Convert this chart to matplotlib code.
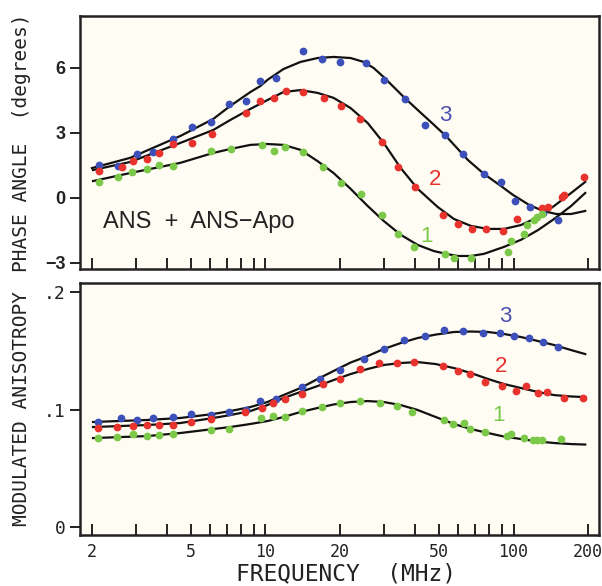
import matplotlib
matplotlib.use("Agg")
import matplotlib.pyplot as plt
from matplotlib.ticker import FixedLocator, FixedFormatter, NullLocator

# ---------------- data: phase angle (degrees) ----------------
phase3_f = [2.13, 2.55, 3.04, 3.53, 4.25, 5.07, 6.05, 7.15, 8.38, 9.55, 11.08, 14.11,
            16.84, 19.91, 25.36, 30.0, 36.4, 43.9, 52.9, 62.5, 76.0, 89.0, 101.4,
            116.6, 131.5, 151.3]
phase3_v = [1.52, 1.48, 2.03, 2.12, 2.72, 3.28, 3.51, 4.34, 4.48, 5.40, 5.54, 6.78,
            6.41, 6.28, 6.23, 5.45, 4.57, 3.37, 2.91, 2.03, 1.11, 0.74, -0.14,
            -0.42, -0.69, -1.02]

phase2_f = [2.13, 2.64, 2.93, 3.34, 3.73, 4.25, 5.07, 6.11, 8.38, 9.55, 10.87, 12.16,
            14.11, 17.15, 20.09, 24.0, 29.4, 34.2, 40.0, 51.9, 59.7, 68.0, 77.4,
            90.7, 103.3, 130.3, 137.8, 157.0, 160.0, 192.7]
phase2_v = [1.25, 1.43, 1.71, 1.80, 2.08, 2.49, 2.54, 2.95, 3.92, 4.48, 4.62, 4.94,
            4.89, 4.62, 4.25, 3.65, 2.58, 1.43, 0.51, -0.78, -1.20, -1.43, -1.43,
            -1.52, -0.97, -0.46, -0.42, 0.05, 0.14, 0.97]

phase1_f = [2.13, 2.55, 2.90, 3.34, 3.73, 4.25, 6.05, 7.29, 9.72, 10.87, 12.05, 14.11,
            17.0, 20.09, 24.2, 29.4, 34.2, 39.6, 52.9, 57.5, 67.3, 95.0, 97.7,
            110.3, 113.4, 121.0, 124.5, 130.3]
phase1_v = [0.74, 0.97, 1.20, 1.34, 1.52, 1.48, 2.17, 2.26, 2.45, 2.17, 2.35, 2.12,
            1.43, 0.69, 0.18, -0.78, -1.66, -2.26, -2.58, -2.77, -2.77, -2.49, -1.98,
            -1.66, -1.25, -1.02, -0.88, -0.74]

# fitted curves
fit3_f = [2.0, 2.85, 4.54, 6.17, 7.22, 8.70, 9.55, 10.19, 11.82, 13.85, 16.23, 18.83,
          22.05, 24.89, 27.3, 29.97, 32.9, 36.1, 41.1, 46.4, 53.4, 59.1, 65.5, 76.0,
          89.0, 99.5, 115.5, 131.5, 148.5, 170.7, 194.5]
fit3_v = [1.38, 1.85, 2.86, 3.65, 4.25, 4.89, 5.17, 5.45, 5.95, 6.28, 6.46, 6.51,
          6.46, 6.28, 6.00, 5.58, 5.12, 4.66, 4.06, 3.51, 2.86, 2.31, 1.75, 1.11,
          0.55, 0.14, -0.32, -0.60, -0.74, -0.74, -0.60]

fit2_f = [2.02, 2.85, 4.54, 6.17, 7.22, 8.70, 10.19, 11.82, 13.85, 16.23, 18.83,
          22.05, 25.83, 29.97, 35.1, 41.1, 49.5, 57.5, 67.3, 78.9, 91.5, 107.2,
          125.6, 145.7, 170.7, 194.5]
fit2_v = [1.29, 1.66, 2.54, 3.14, 3.60, 4.11, 4.52, 4.89, 4.98, 4.85, 4.62,
          4.15, 3.46, 2.54, 1.38, 0.42, -0.42, -0.97, -1.29, -1.43, -1.43, -1.25,
          -0.88, -0.37, 0.23, 0.74]

fit1_f = [2.02, 2.85, 4.54, 6.17, 7.22, 8.70, 10.19, 11.82, 13.85, 16.23, 18.83,
          22.05, 25.83, 29.97, 35.1, 41.1, 47.7, 53.4, 59.7, 67.3, 76.0, 91.5,
          107.2, 125.6, 145.7, 170.7, 194.5]
fit1_v = [0.78, 1.15, 1.62, 2.08, 2.26, 2.45, 2.49, 2.45, 2.22, 1.70, 1.15,
          0.42, -0.37, -1.06, -1.70, -2.17, -2.45, -2.58, -2.68, -2.68, -2.58, -2.26,
          -1.93, -1.48, -0.97, -0.37, 0.23]

# ---------------- data: modulated anisotropy ----------------
anis3_f = [2.12, 2.62, 3.04, 3.53, 4.25, 5.02, 6.05, 7.15, 8.38, 9.55, 11.08, 13.98,
           16.53, 19.91, 24.89, 29.97, 36.1, 43.9, 52.4, 62.5, 75.3, 88.2, 100.5,
           115.5, 131.5, 151.3]
anis3_v = [0.0894, 0.0928, 0.0911, 0.0928, 0.0936, 0.0962, 0.0953, 0.0979, 0.0996,
           0.1072, 0.1089, 0.1191, 0.1260, 0.1336, 0.1430, 0.1515, 0.1591, 0.1626,
           0.1677, 0.1668, 0.1651, 0.1651, 0.1626, 0.1609, 0.1574, 0.1532]

anis2_f = [2.12, 2.52, 2.93, 3.34, 3.73, 4.25, 5.02, 6.05, 8.30, 9.72, 10.77, 11.94,
           13.98, 17.0, 19.91, 23.98, 28.62, 33.83, 39.6, 51.9, 59.7, 66.7, 76.7,
           89.8, 102.3, 112.3, 125.6, 136.5, 160.0, 191.0]
anis2_v = [0.0843, 0.0851, 0.0860, 0.0868, 0.0868, 0.0868, 0.0894, 0.0919, 0.0979,
           0.1013, 0.1055, 0.1089, 0.1132, 0.1217, 0.1260, 0.1345, 0.1396, 0.1396,
           0.1404, 0.1370, 0.1328, 0.1302, 0.1234, 0.1200, 0.1157, 0.1200, 0.1140,
           0.1149, 0.1098, 0.1098]

anis1_f = [2.12, 2.52, 2.93, 3.34, 3.73, 4.25, 6.05, 7.15, 9.63, 10.77, 11.94, 13.98,
           16.84, 19.91, 23.98, 28.9, 33.83, 38.9, 52.4, 57.0, 63.1, 66.7, 76.7,
           94.1, 97.7, 110.3, 119.9, 124.5, 130.3, 155.6]
anis1_v = [0.0757, 0.0770, 0.0791, 0.0774, 0.0783, 0.0791, 0.0826, 0.0834, 0.0928,
           0.0945, 0.0936, 0.0987, 0.1021, 0.1055, 0.1072, 0.1055, 0.1030, 0.0979,
           0.0911, 0.0877, 0.0885, 0.0834, 0.0809, 0.0774, 0.0791, 0.0757, 0.0740,
           0.0740, 0.0740, 0.0749]

afit_f = [2.02, 3.34, 4.54, 6.17, 7.22, 8.70, 10.19, 11.82, 13.85, 16.23, 18.83,
          22.05, 25.83, 29.97, 35.1, 41.1, 48.6, 57.5, 67.3, 78.9, 91.5, 107.2,
          125.6, 145.7, 170.7, 194.5]
afit3_v = [0.0894, 0.0911, 0.0928, 0.0962, 0.0987, 0.1021, 0.1064, 0.1123, 0.1183,
           0.1260, 0.1328, 0.1400, 0.1455, 0.1515, 0.1566, 0.1609, 0.1638, 0.1660,
           0.1664, 0.1660, 0.1643, 0.1617, 0.1583, 0.1549, 0.1506, 0.1472]
afit2_v = [0.0851, 0.0868, 0.0885, 0.0928, 0.0953, 0.0987, 0.1038, 0.1098, 0.1149,
           0.1200, 0.1251, 0.1302, 0.1345, 0.1379, 0.1396, 0.1404, 0.1387, 0.1353,
           0.1311, 0.1260, 0.1217, 0.1183, 0.1149, 0.1123, 0.1111, 0.1106]
afit1_v = [0.0757, 0.0774, 0.0800, 0.0834, 0.0851, 0.0877, 0.0902, 0.0936, 0.0979,
           0.1013, 0.1043, 0.1064, 0.1072, 0.1064, 0.1038, 0.0996, 0.0936, 0.0877,
           0.0834, 0.0800, 0.0770, 0.0749, 0.0728, 0.0715, 0.0706, 0.0702]

x_ticks = [2, 3, 4, 5, 6, 7, 8, 9, 10, 20, 30, 40, 50, 60, 70, 80, 90, 100, 200]
x_labels = ["2", "", "", "5", "", "", "", "", "10", "20", "", "", "50", "", "", "", "", "100", "200"]
phase_ticks = [-3, 0, 3, 6]
phase_labels = ["\u22123", "0", "3", "6"]
anis_ticks = [0, 0.1, 0.2]
anis_labels = ["0", ".1", ".2"]

# ---------------- style ----------------
BLUE = "#3d4fb8"
RED = "#e8322e"
GREEN = "#7cc94a"
BG = "#fffdf3"
W, H = 602, 586

fig = plt.figure(figsize=(W / 100, H / 100), dpi=100)
fig.patch.set_facecolor("white")
ax1 = fig.add_axes([80 / W, 1 - 269 / H, 519 / W, 253 / H])
ax2 = fig.add_axes([80 / W, 1 - 535 / H, 519 / W, 252 / H])

mono = "DejaVu Sans Mono"
sans = "Liberation Sans"

for ax in (ax1, ax2):
    ax.set_facecolor(BG)
    ax.set_xscale("log")
    ax.set_xlim(1.79, 221)
    ax.xaxis.set_major_locator(FixedLocator(x_ticks))
    ax.xaxis.set_minor_locator(NullLocator())
    ax.tick_params(axis="x", direction="in", length=8, width=1.4, color="#222222")
    ax.tick_params(axis="y", direction="out", length=7, width=1.4, color="#222222")
    for s in ax.spines.values():
        s.set_linewidth(1.8)
        s.set_color("#222222")

ax1.set_xticklabels([""] * len(x_ticks))
ax2.xaxis.set_major_formatter(FixedFormatter(x_labels))
for lab in ax2.get_xticklabels():
    lab.set_fontfamily(mono)
    lab.set_fontsize(12)
    lab.set_color("#222222")
ax2.tick_params(axis="x", pad=6)

ax1.set_ylim(-3.28, 8.4)
ax1.yaxis.set_major_locator(FixedLocator(phase_ticks))
ax1.yaxis.set_major_formatter(FixedFormatter(phase_labels))
for lab in ax1.get_yticklabels():
    lab.set_fontfamily(sans)
    lab.set_fontsize(13)
    lab.set_fontweight("bold")
    lab.set_color("#222222")

ax2.set_ylim(-0.0068, 0.2077)
ax2.yaxis.set_major_locator(FixedLocator(anis_ticks))
ax2.yaxis.set_major_formatter(FixedFormatter(anis_labels))
for lab in ax2.get_yticklabels():
    lab.set_fontfamily(mono)
    lab.set_fontsize(13)
    lab.set_color("#222222")

mk = dict(marker="o", linestyle="none", markersize=5.6, markeredgewidth=0, zorder=3)
ln = dict(color="#111111", linewidth=1.6, zorder=2, solid_joinstyle="round")

ax1.plot(fit3_f, fit3_v, **ln)
ax1.plot(fit2_f, fit2_v, **ln)
ax1.plot(fit1_f, fit1_v, **ln)
ax1.plot(phase3_f, phase3_v, color=BLUE, **mk)
ax1.plot(phase2_f, phase2_v, color=RED, **mk)
ax1.plot(phase1_f, phase1_v, color=GREEN, **mk)

ax2.plot(afit_f, afit3_v, **ln)
ax2.plot(afit_f, afit2_v, **ln)
ax2.plot(afit_f, afit1_v, **ln)
ax2.plot(anis3_f, anis3_v, color=BLUE, **mk)
ax2.plot(anis2_f, anis2_v, color=RED, **mk)
ax2.plot(anis1_f, anis1_v, color=GREEN, **mk)

# curve numbers
lab_kw = dict(fontfamily=sans, fontsize=16, ha="center", va="center")
ax1.text(52.9, 3.80, "3", color="#4a4fb0", **lab_kw)
ax1.text(48.2, 0.83, "2", color=RED, **lab_kw)
ax1.text(44.7, -1.80, "1", color=GREEN, **lab_kw)
ax2.text(92.4, 0.1796, "3", color="#4a4fb0", **lab_kw)
ax2.text(89.0, 0.1370, "2", color=RED, **lab_kw)
ax2.text(86.6, 0.0953, "1", color=GREEN, **lab_kw)

ax1.text(2.215, -1.11, "ANS  +  ANS\u2212Apo", fontfamily=sans, fontsize=17,
         ha="left", va="center", color="#222222")

fig.text(22 / W, 1 - 143 / H, "PHASE ANGLE  (degrees)", rotation=90, ha="center",
         va="center", fontfamily=mono, fontsize=14, color="#222222")
fig.text(22 / W, 1 - 409 / H, "MODULATED ANISOTROPY", rotation=90, ha="center",
         va="center", fontfamily=mono, fontsize=14, color="#222222")
fig.text(346 / W, 1 - 574 / H, "FREQUENCY  (MHz)", ha="center", va="center",
         fontfamily=mono, fontsize=16.5, color="#222222")

fig.savefig("out.png", dpi=100, facecolor="white")
